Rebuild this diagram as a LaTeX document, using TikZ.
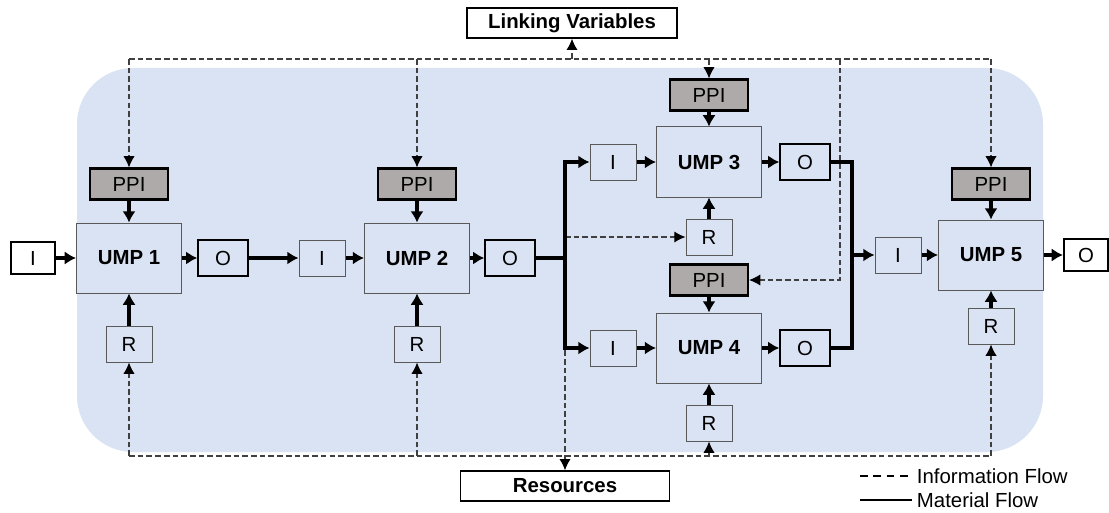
\documentclass[tikz,border=0pt]{standalone}
\usepackage{fontspec}
\setmainfont{Liberation Sans}
\usetikzlibrary{arrows.meta}
\definecolor{bgblue}{HTML}{DAE3F3}
\definecolor{ppigray}{HTML}{AEAAAA}
\definecolor{boxgray}{HTML}{595959}
\definecolor{infogray}{HTML}{404040}
\tikzset{>=Latex}

\begin{document}
\begin{tikzpicture}[x=0.025cm,y=-0.025cm,font=\fontsize{14.5}{17}\selectfont,
    ump/.style={draw=boxgray,line width=0.7pt,fill=bgblue,minimum width=2.625cm,minimum height=1.75cm,font=\fontsize{14.5}{17}\selectfont\bfseries},
    ibox/.style={draw=boxgray,line width=0.7pt,fill=bgblue,minimum width=1.15cm,minimum height=0.9cm},
    obox/.style={ibox,draw=black,line width=1pt,minimum width=1.25cm},
    extbox/.style={draw=black,line width=1.5pt,fill=white,minimum width=1.1cm,minimum height=0.8cm},
    ppi/.style={draw=black,line width=1.5pt,fill=ppigray,minimum width=1.95cm,minimum height=0.775cm},
    title/.style={draw=black,line width=1.3pt,fill=white,minimum height=0.74cm,font=\fontsize{14.5}{17}\selectfont\bfseries},
    mat/.style={->,line width=2.8pt,>={Latex[length=8pt,width=9.5pt]}},
    matline/.style={line width=2.8pt},
    info/.style={->,infogray,line width=0.8pt,dash pattern=on 4pt off 2.2pt,>={Latex[length=8pt,width=8pt,color=black]}},
    infoline/.style={infogray,line width=0.8pt,dash pattern=on 4pt off 2.2pt},
    legdash/.style={line width=1.1pt,dash pattern=on 5.5pt off 4pt}]
    \useasboundingbox (0,0) rectangle (1109,512);
    % system boundary
    \fill[bgblue,rounded corners=1.4cm] (77,68) rectangle (1043,452);

    \node[title,minimum width=5.25cm] (lv) at (572,23) {Linking Variables};
    \node[title,minimum width=5.225cm] (res) at (565,486) {Resources};

    % UMP 1 and UMP 2
    \node[extbox] (i0) at (33,258) {I};
    \node[ump] (u1) at (129,258) {UMP 1};
    \node[obox] (o1) at (223,258) {O};
    \node[ibox] (i2) at (322,258) {I};
    \node[ump] (u2) at (417,258) {UMP 2};
    \node[obox] (o2) at (510,258) {O};
    \node[ppi] (p1) at (129,184) {PPI};
    \node[ppi] (p2) at (417,184) {PPI};
    \node[ibox] (r1) at (129,344) {R};
    \node[ibox] (r2) at (417,344) {R};

    % UMP 3 and UMP 4 in parallel
    \node[ibox] (i3) at (613,162) {I};
    \node[ump] (u3) at (709,162) {UMP 3};
    \node[obox] (o3) at (805,162) {O};
    \node[ppi] (p3) at (709,95) {PPI};
    \node[ibox] (r3) at (709,237) {R};
    \node[ibox] (i4) at (613,348) {I};
    \node[ump] (u4) at (709,348) {UMP 4};
    \node[obox] (o4) at (805,348) {O};
    \node[ppi] (p4) at (709,280) {PPI};
    \node[ibox] (r4) at (709,423) {R};

    % UMP 5
    \node[ibox] (i5) at (898,255) {I};
    \node[ump] (u5) at (991,255) {UMP 5};
    \node[extbox] (o5) at (1086,255) {O};
    \node[ppi] (p5) at (991,184) {PPI};
    \node[ibox] (r5) at (991,326) {R};

    % information flow
    \coordinate (top) at (0,59);
    \coordinate (bot) at (0,456);
    \coordinate (side) at (840,59);
    \coordinate (rsplit) at (565,237);
    \draw[infoline] (p1 |- top) -- (p5 |- top);
    \foreach \p in {p1,p2,p3,p5}
        \draw[info] (\p |- top) -- (\p);
    \draw[info] (side) |- (p4);
    \draw[info] (lv |- top) -- (lv);
    \draw[infoline] (r1 |- bot) -- (r5 |- bot);
    \foreach \r in {r1,r2,r4,r5}
        \draw[info] (\r |- bot) -- (\r);
    \draw[info] (rsplit) -- (r3);
    \draw[info] (rsplit) -- (res);

    % material flow
    \foreach \a/\b in {i0/u1,u1/o1,o1/i2,i2/u2,u2/o2,i3/u3,u3/o3,i4/u4,u4/o4,i5/u5,u5/o5,
                       p1/u1,p2/u2,p3/u3,p4/u4,p5/u5,r1/u1,r2/u2,r3/u3,r4/u4,r5/u5}
        \draw[mat] (\a) -- (\b);
    \coordinate (split) at (565,258);
    \coordinate (merge) at (852,255);
    \draw[matline] (o2) -- (split);
    \draw[mat] (split) |- (i3);
    \draw[mat] (split) |- (i4);
    \draw[matline] (o3) -| (merge);
    \draw[matline] (o4) -| (merge);
    \draw[mat] (merge) -- (i5);

    % legend
    \node[anchor=west] (leginfo) at (912,476) {Information Flow};
    \node[anchor=west] (legmat) at (912,500) {Material Flow};
    \coordinate (legi) at (860,476);
    \coordinate (legm) at (860,500);
    \draw[legdash] (legi) -- (leginfo.west);
    \draw[line width=1.1pt] (legm) -- (legmat.west);
\end{tikzpicture}
\end{document}
